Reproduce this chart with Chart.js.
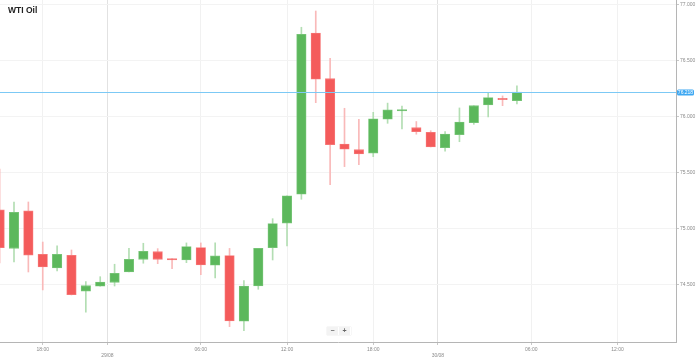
<!DOCTYPE html>
<html><head><meta charset="utf-8">
<script src="https://cdn.jsdelivr.net/npm/chart.js@4"></script>
<style>
html,body{margin:0;padding:0;background:#fff;}
#wrap{position:relative;width:699px;height:361px;overflow:hidden;}
#title{position:absolute;left:8px;top:5px;font:bold 8.5px "Liberation Sans",Arial,sans-serif;color:#222;white-space:nowrap;}
#zoom{position:absolute;left:327px;top:327px;height:8px;display:flex;background:#fff;box-shadow:0 0 1px #ccc;}
#zoom span{display:block;width:11px;height:8px;line-height:8px;text-align:center;font:bold 7px "Liberation Sans",Arial,sans-serif;color:#666;background:#f3f3f3;margin-right:1px;}
</style></head>
<body>
<div id="wrap">
<canvas id="c" width="699" height="361"></canvas>
<div id="title">WTI Oil</div>
<div id="zoom"><span>−</span><span>+</span></div>
</div>
<script>
// hourly candles (28/08 15:00 … 30/08 05:00, no 23:00 bar)
const times = ['15:00','16:00','17:00','18:00','19:00','20:00','21:00','22:00',
  '00:00','01:00','02:00','03:00','04:00','05:00','06:00','07:00','08:00','09:00','10:00','11:00','12:00','13:00','14:00','15:00','16:00','17:00','18:00','19:00','20:00','21:00','22:00',
  '00:00','01:00','02:00','03:00','04:00','05:00'];
const open  = [75.167,74.825,75.158,74.772,74.650,74.763,74.442,74.487,74.522,74.614,74.727,74.795,74.733,74.721,74.831,74.674,74.761,74.175,74.489,74.831,75.048,75.307,76.744,76.337,75.755,75.704,75.672,75.976,76.049,75.900,75.859,75.722,75.838,75.945,76.103,76.162,76.141];
const high  = [75.532,75.238,75.238,74.881,74.846,74.810,74.528,74.572,74.683,74.825,74.870,74.822,74.733,74.873,74.873,74.873,74.824,74.537,74.825,75.089,75.293,76.795,76.940,76.519,76.073,75.975,76.037,76.119,76.092,75.955,75.873,75.865,76.076,76.096,76.207,76.183,76.272];
const low   = [74.694,74.703,74.614,74.454,74.623,74.409,74.255,74.487,74.489,74.614,74.692,74.688,74.643,74.697,74.590,74.561,74.127,74.091,74.460,74.721,74.846,75.262,76.123,75.392,75.553,75.570,75.642,75.939,75.890,75.842,75.728,75.690,75.775,75.930,75.996,76.096,76.111];
const close = [74.831,75.146,74.763,74.659,74.772,74.412,74.492,74.525,74.602,74.727,74.799,74.727,74.721,74.840,74.676,74.757,74.177,74.489,74.825,75.045,75.293,76.733,76.332,75.749,75.708,75.666,75.979,76.060,76.061,75.865,75.728,75.844,75.951,76.096,76.168,76.150,76.218];
const currentPrice = 76.218;
// x-axis ticks (in candle-index units) and their labels
const xTickValues = [3, 7.5, 14, 20, 26, 30.5, 37, 43];
const xTickLabels = ['18:00','29/08','06:00','12:00','18:00','30/08','06:00','12:00'];
const dateTicks = ['29/08','30/08'];
const yTickValues = [74.5, 75.0, 75.5, 76.0, 76.5, 77.0];

const UP = '#5cb85c', DOWN = '#f45b5b';
const UP_W = '#b3deb3', DOWN_W = '#f9b9b9';
const isUp = i => close[i] >= open[i];

const bodies = times.map((t, i) => ({x: i, y: [open[i], close[i]]}));
const wicks  = times.map((t, i) => ({x: i, y: [low[i], high[i]]}));

const labelAt = v => { const k = xTickValues.indexOf(v); return k < 0 ? '' : xTickLabels[k]; };

const priceLine = {
  id: 'priceLine',
  afterDatasetsDraw(chart) {
    const {ctx, chartArea, scales} = chart;
    const y = Math.round(scales.y.getPixelForValue(currentPrice)) + 0.5;
    ctx.save();
    ctx.strokeStyle = '#7cc9f5';
    ctx.lineWidth = 1;
    ctx.beginPath(); ctx.moveTo(chartArea.left, y); ctx.lineTo(chartArea.right, y); ctx.stroke();
    const bx = chartArea.right + 1, bw = 17, bh = 6;
    ctx.fillStyle = '#3fa8f2';
    ctx.beginPath();
    if (ctx.roundRect) ctx.roundRect(bx, y - bh/2, bw, bh, 1.5); else ctx.rect(bx, y - bh/2, bw, bh);
    ctx.fill();
    ctx.fillStyle = '#ffffff';
    ctx.font = '5px "Liberation Sans", Arial, sans-serif';
    ctx.textAlign = 'center'; ctx.textBaseline = 'middle';
    ctx.fillText(currentPrice.toFixed(3), bx + bw/2, y + 0.3);
    ctx.restore();
  }
};

new Chart(document.getElementById('c'), {
  type: 'bar',
  data: {
    datasets: [
      { label: 'body', data: bodies, grouped: false, barThickness: 9.5,
        backgroundColor: c => isUp(c.dataIndex) ? UP : DOWN,
        borderColor: c => isUp(c.dataIndex) ? '#7cc77c' : '#f77c7c',
        borderWidth: 0.8, borderSkipped: false, minBarLength: 1.2 },
      { label: 'wick', data: wicks, grouped: false, barThickness: 1,
        backgroundColor: c => isUp(c.dataIndex) ? UP_W : DOWN_W,
        borderWidth: 0 }
    ]
  },
  options: {
    responsive: false,
    animation: false,
    events: [],
    layout: { padding: 0 },
    plugins: { legend: { display: false }, tooltip: { enabled: false }, title: { display: false } },
    scales: {
      x: {
        type: 'linear', min: 0.026, max: 47.07, offset: false,
        afterBuildTicks: s => { s.ticks = xTickValues.map(v => ({value: v})); },
        afterFit: s => { s.height = 19; s.paddingLeft = 0; s.paddingRight = 0; },
        border: { display: true, color: '#b5b5b5' },
        grid: {
          offset: false,
          color: c => (c.tick && dateTicks.includes(labelAt(c.tick.value))) ? '#e2e2e2' : '#f1f1f1',
          tickColor: '#c8c8c8', tickLength: 3, drawTicks: true
        },
        ticks: {
          autoSkip: false, maxRotation: 0, padding: 1.5,
          color: '#8a8a8a', font: { size: 5, family: 'Liberation Sans, Arial, sans-serif' },
          callback: v => { const l = labelAt(v); return dateTicks.includes(l) ? ['', l] : l; }
        }
      },
      y: {
        position: 'right', min: 73.99, max: 77.038,
        afterBuildTicks: s => { s.ticks = yTickValues.map(v => ({value: v})); },
        afterFit: s => { s.width = 23; s.paddingTop = 0; s.paddingBottom = 0; },
        border: { display: true, color: '#b5b5b5' },
        grid: { color: '#f3f3f3', tickColor: '#c8c8c8', tickLength: 3 },
        ticks: {
          padding: 1, color: '#8a8a8a',
          font: { size: 5, family: 'Liberation Sans, Arial, sans-serif' },
          callback: v => Number(v).toFixed(3)
        }
      }
    }
  },
  plugins: [priceLine]
});
</script>
</body></html>
